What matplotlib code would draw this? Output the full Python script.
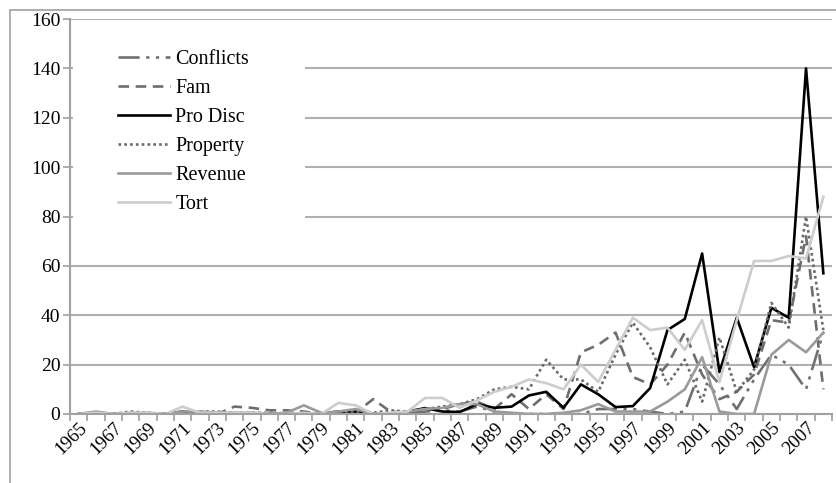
import matplotlib
matplotlib.use("Agg")
import matplotlib.pyplot as plt
import matplotlib.transforms as mtransforms
from matplotlib.patches import Rectangle
import numpy as np

plt.rcParams['font.family'] = ['Liberation Serif', 'DejaVu Serif']

years = list(range(1965, 2009))

conflicts = [0, 0, 0, 0, 0, 0, 0, 0, 0, 0, 0, 0, 0, 0, 0, 0, 0, 0, 0, 0,
             1, 1.5, 1, 3, 1, 0, 0, 0, 0, 0, 2, 2, 2, 1, 0, 1,
             20, 12, 2, 14, 24, 20, 10, 33]
fam = [0, 0, 0, 0, 0, 0, 0, 0, 0, 3, 2.5, 1.5, 1.5, 1, 0, 0.5, 0.5, 6, 1, 0.5,
       2, 2, 4, 5, 2, 8, 2, 8, 2, 25, 28, 33, 15, 12, 20, 33,
       16, 6, 9, 16, 38, 37, 72, 10]
pro_disc = [0, 0, 0, 0, 0, 0, 1, 0, 0, 0, 0, 0, 0, 0, 0, 1, 1, 0, 0, 1,
            2.4, 1, 0.8, 4, 2.5, 3, 7.5, 9, 2.5, 12, 8, 2.8, 3.2, 10.5, 34, 38.5,
            65, 17, 39, 19, 43, 39, 140, 57]
property_ = [0, 0, 0, 1, 0.5, 0, 0.5, 1, 1, 0.5, 0.5, 0.5, 0, 0, 0, 1, 1, 0.5, 1.5, 1,
             2, 3, 4, 6, 10, 11, 10, 22, 14, 14, 9, 24, 37, 27, 12, 22,
             5, 31, 9, 18, 45, 35, 80, 34]
revenue = [0, 1, 0, 0.5, 0.5, 0, 1, 1, 0.5, 0.5, 0.5, 0, 0.5, 3.5, 0.5, 1, 2, 0, 0, 1,
           2, 2.5, 4, 4, 1, 0.5, 0, 0, 0.5, 1.5, 4, 1, 1, 1, 5, 10,
           23, 1, 0, 0, 24, 30, 25, 33]
tort = [0, 0.5, 0, 0.5, 0.5, 0, 3, 0.5, 0.5, 0.5, 0.5, 0, 0, 0.5, 0, 4.5, 3.5, 0, 0.5, 1,
        6.5, 6.5, 2.5, 5.5, 9, 11, 14, 12.5, 10, 20, 13, 26, 39, 34, 35, 26,
        38, 13, 38, 62, 62, 64, 63, 88]

W, H = 836, 483
fig = plt.figure(figsize=(W / 100, H / 100), dpi=100)
x0, x1, ytop, ybot = 70, 832, 19, 414
ax = fig.add_axes([x0 / W, 1 - ybot / H, (x1 - x0) / W, (ybot - ytop) / H])

# chart border (only top and left visible)
fig.patches.append(Rectangle((10 / W, -0.1), 1.2, 1 - 10 / H + 0.1, transform=fig.transFigure,
                             fill=False, ec='#a0a0a0', lw=1.2))

x = np.arange(len(years))
lw = 1.9
ax.plot(x, conflicts, color='#707070', lw=lw, dashes=(8, 2.5, 1.2, 2.5, 1.2, 2.5), label='Conflicts')
ax.plot(x, fam, color='#6e6e6e', lw=lw, dashes=(4, 2.5), label='Fam')
ax.plot(x, pro_disc, color='black', lw=lw, label='Pro Disc')
ax.plot(x, property_, color='#6a6a6a', lw=lw, dashes=(1, 1.2), label='Property')
ax.plot(x, revenue, color='#9a9a9a', lw=lw, label='Revenue')
ax.plot(x, tort, color='#cdcdcd', lw=lw, label='Tort')

ax.set_xlim(-0.5, len(years) - 0.5)
ax.set_ylim(0, 160)
ax.set_yticks(range(0, 161, 20))
ax.yaxis.grid(True, color='#b0b0b0', lw=1.5)
ax.set_axisbelow(True)

ax.set_xticks(x[::2])
ax.set_xticklabels([str(y) for y in years[::2]], rotation=45, ha='right', va='top',
                   rotation_mode='anchor', fontsize=13.5)
shift = mtransforms.ScaledTranslation(-8 / 100, 0, fig.dpi_scale_trans)
for lab in ax.get_xticklabels():
    lab.set_transform(lab.get_transform() + shift)
ax.set_xticks(np.arange(-0.5, len(years), 1), minor=True)
ax.tick_params(axis='x', which='major', length=0, pad=4)
ax.tick_params(axis='x', which='minor', length=5, color='#a0a0a0', width=1.2)
ax.tick_params(axis='y', length=5, color='#a0a0a0', width=1.2, labelsize=14, pad=2)

for s in ['top', 'right']:
    ax.spines[s].set_visible(False)
for s in ['left', 'bottom']:
    ax.spines[s].set_color('#a0a0a0')
    ax.spines[s].set_linewidth(1.5)

# white box behind legend, hiding the gridlines
ax.add_patch(Rectangle(((73 - x0) / (x1 - x0), (ybot - 225) / (ybot - ytop)),
                       (305 - 73) / (x1 - x0), (225 - 24) / (ybot - ytop),
                       transform=ax.transAxes, fc='white', ec='none', zorder=1))

leg = ax.legend(loc='upper left', bbox_to_anchor=(110 / W, 1 - 42 / H), bbox_transform=fig.transFigure,
                frameon=False, fontsize=14.5, handlelength=2.6, handletextpad=0.25,
                labelspacing=0.49, borderaxespad=0)

fig.savefig('out.png', dpi=100)
